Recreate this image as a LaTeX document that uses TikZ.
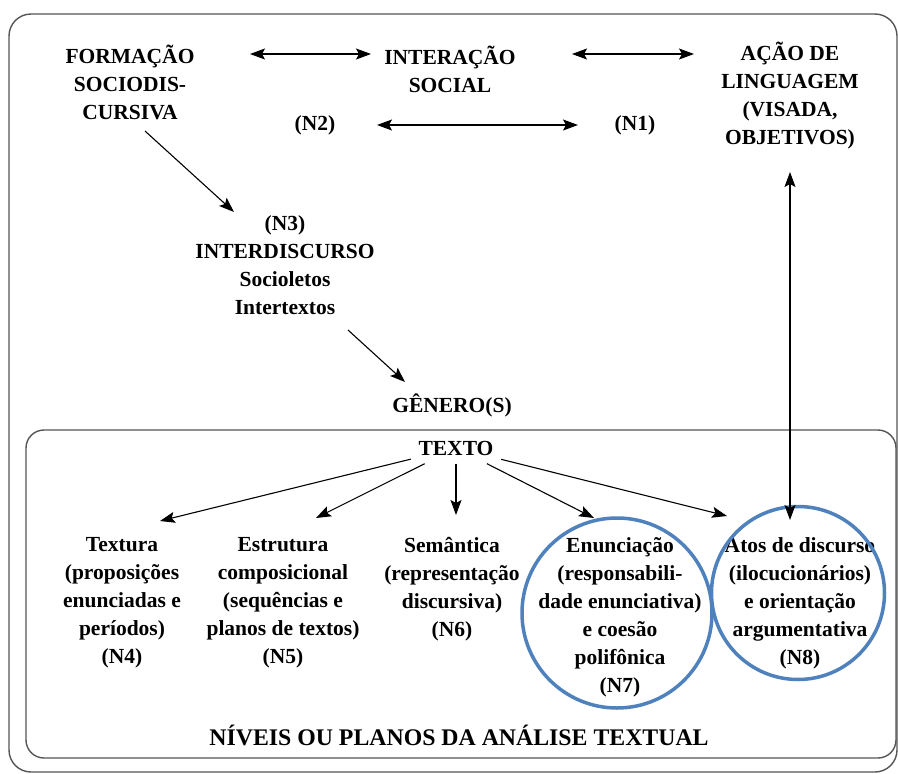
\documentclass[tikz,border=0pt]{standalone}
\usepackage{fontspec}
\setmainfont{Liberation Serif}
\usetikzlibrary{arrows.meta}
\definecolor{circblue}{RGB}{79,129,189}
\definecolor{boxgray}{RGB}{85,85,85}
\tikzset{
  lbl/.style={align=center, font=\fontsize{21.5}{28}\selectfont\bfseries, inner sep=0pt},
  tip/.style={Stealth[length=15pt,width=11pt,inset=3pt]},
  arr/.style={-{Stealth[length=15pt,width=11pt,inset=3pt]}, line width=1.1pt},
  dbl/.style={{Stealth[length=15pt,width=11pt,inset=3pt]}-{Stealth[length=15pt,width=11pt,inset=3pt]}, line width=1.1pt},
  panel/.style={draw=boxgray, line width=1.4pt},
  ring/.style={circle, draw=circblue, line width=3.5pt, inner sep=0pt},
}
\begin{document}
\begin{tikzpicture}[x=1pt,y=-1pt]
\useasboundingbox (0,0) rectangle (898,774);
\draw[panel, rounded corners=22pt] (9,14) rectangle (897,772);
\draw[panel, rounded corners=18pt] (26,430) rectangle (896,758);

\node[lbl] (formacao) at (130,82) {FORMAÇÃO\\SOCIODIS-\\CURSIVA};
\node[lbl] (interacao) at (450,69) {INTERAÇÃO\\SOCIAL};
\node[lbl] (acao) at (790,96) {AÇÃO DE\\LINGUAGEM\\(VISADA,\\OBJETIVOS)};
\node[lbl] (n2) at (315,125) {(N2)};
\node[lbl] (n1) at (635,125) {(N1)};
\node[lbl] (n3) at (285,265) {(N3)\\INTERDISCURSO\\Socioletos\\Intertextos};
\node[lbl] (genero) at (452,405) {GÊNERO(S)};
\node[lbl, minimum width=90pt, minimum height=31pt] (texto) at (456,448) {TEXTO};

\node[lbl] (textura) at (122,603) {Textura\\(proposições\\enunciadas e\\períodos)\\(N4)};
\node[lbl] (estrutura) at (283,603) {Estrutura\\composicional\\(sequências e\\planos de textos)\\(N5)};
\node[lbl] (semantica) at (452,589) {Semântica\\(representação\\discursiva)\\(N6)};
\node[lbl] (enunciacao) at (620,617) {Enunciação\\(responsabili-\\dade enunciativa)\\e coesão\\polifônica\\(N7)};
\node[lbl] (atos) at (800,603) {Atos de discurso\\(ilocucionários)\\e orientação\\argumentativa\\(N8)};
\node[align=center, font=\fontsize{23.8}{28}\selectfont\bfseries, inner sep=0pt] (niveis) at (459,735) {NÍVEIS OU PLANOS DA ANÁLISE TEXTUAL};

\node[ring, minimum size=190pt] (c7) at (617,613) {};
\node[ring, minimum size=173pt] (c8) at (798,593) {};

\coordinate (t1a) at (250,54); \coordinate (t1b) at (371,54);
\coordinate (t2a) at (572,54); \coordinate (t2b) at (694,54);
\coordinate (m1a) at (377,125); \coordinate (m1b) at (578,125);
\coordinate (d1a) at (145,131); \coordinate (d1b) at (234,212);
\coordinate (d2a) at (348,330); \coordinate (d2b) at (405,382);
\coordinate (v1a) at (790,172); \coordinate (v1b) at (790,520);
\coordinate (e4) at (160,521); \coordinate (e5) at (316,518);
\coordinate (e6) at (456,515); \coordinate (e7) at (594,518);
\coordinate (e8) at (727,516);

\draw[dbl] (t1a) -- (t1b);
\draw[dbl] (t2a) -- (t2b);
\draw[dbl] (m1a) -- (m1b);
\draw[arr] (d1a) -- (d1b);
\draw[arr] (d2a) -- (d2b);
\draw[dbl] (v1a) -- (v1b);
\draw[arr] (texto) -- (e4);
\draw[arr] (texto) -- (e5);
\draw[arr] (texto) -- (e6);
\draw[arr] (texto) -- (e7);
\draw[arr] (texto) -- (e8);
\end{tikzpicture}
\end{document}
